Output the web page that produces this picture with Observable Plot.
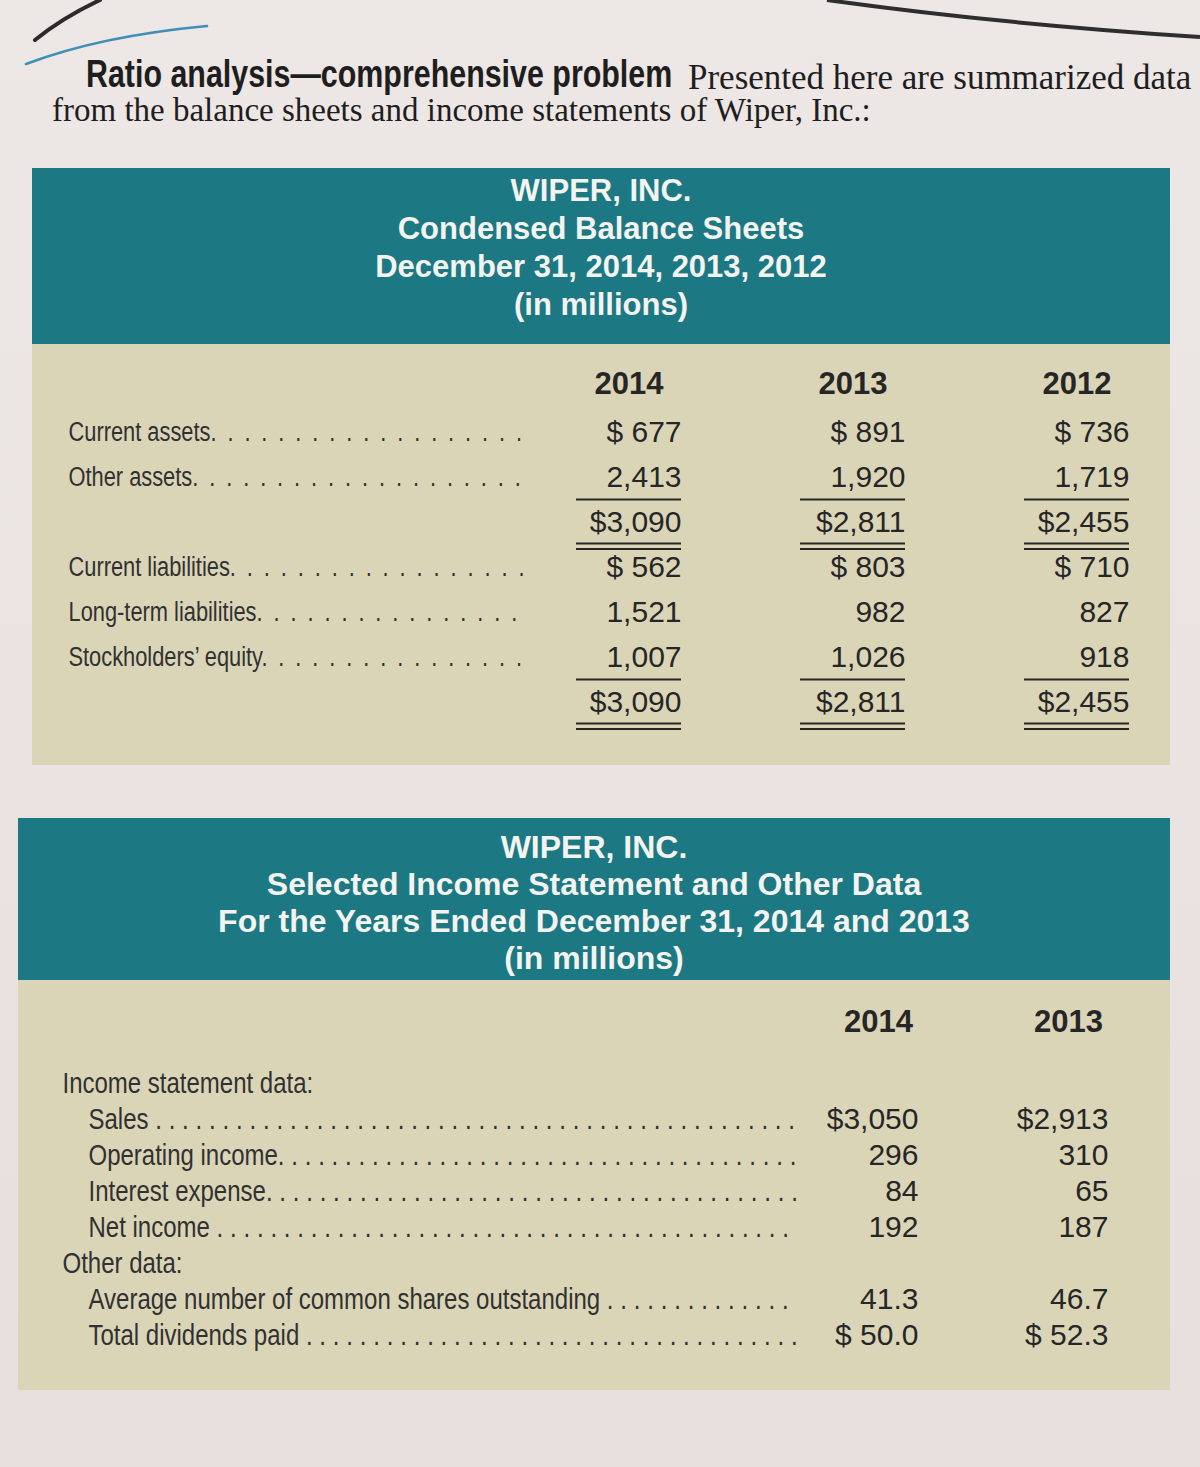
<!DOCTYPE html>
<html><head><meta charset="utf-8">
<script src="https://cdn.jsdelivr.net/npm/d3@7"></script>
<script src="https://cdn.jsdelivr.net/npm/@observablehq/plot@0.6"></script>
<style>
html,body{margin:0;padding:0}
body{width:1200px;height:1467px;position:relative;overflow:hidden;background:linear-gradient(#ede7e5,#e6dfde);font-family:"Liberation Sans",Arial,sans-serif;color:#222}
#deco{position:absolute;left:0;top:0}
.intro{position:absolute;white-space:nowrap;color:#1e1e1e;line-height:1}
.l1a{left:86px;top:55px;font-family:"Liberation Sans",Arial,sans-serif;font-weight:bold;font-size:38px;transform:scaleX(0.8);transform-origin:0 50%}
.l1b{left:688px;top:60px;font-family:"Liberation Serif","Times New Roman",serif;font-size:35px}
.l2{left:52px;top:94px;font-family:"Liberation Serif","Times New Roman",serif;font-size:33px}
.head{position:absolute;background:#1c7883;color:#f3f3ef;font-weight:bold;text-align:center;box-sizing:border-box}
#h1{left:32px;top:168px;width:1138px;height:176px;padding-top:4px;line-height:38px;font-size:31px}
#h2{left:18px;top:818px;width:1152px;height:162px;padding-top:11px;line-height:37px;font-size:32px}
.panel{position:absolute}
#p1{left:32px;top:344px}
#p2{left:18px;top:980px}
</style></head>
<body>
<svg id="deco" width="1200" height="160">
  <path d="M35,40 Q62,18 100,0" fill="none" stroke="#2b2b2b" stroke-width="4" stroke-linecap="round"/>
  <path d="M26,64 Q100,36 207,26" fill="none" stroke="#3f8fb8" stroke-width="2.5" stroke-linecap="round"/>
  <path d="M827,0 Q1000,24 1200,37" fill="none" stroke="#2e2e2e" stroke-width="4"/>
</svg>
<div class="intro l1a">Ratio analysis—comprehensive problem</div>
<div class="intro l1b">Presented here are summarized data</div>
<div class="intro l2">from the balance sheets and income statements of Wiper, Inc.:</div>
<div class="head" id="h1">WIPER, INC.<br>Condensed Balance Sheets<br>December 31, 2014, 2013, 2012<br>(in millions)</div>
<div class="head" id="h2">WIPER, INC.<br>Selected Income Statement and Other Data<br>For the Years Ended December 31, 2014 and 2013<br>(in millions)</div>
<div class="panel" id="p1"></div>
<div class="panel" id="p2"></div>
<script>
// ---------- Balance sheet data ----------
const bsYears = ["2014", "2013", "2012"];
const bsRowKeys = ["ca", "oa", "ta", "cl", "ll", "se", "tl"];
const bsRowLabels = ["Current assets", "Other assets", "", "Current liabilities", "Long-term liabilities", "Stockholders’ equity", ""];
const bs2014 = [677, 2413, 3090, 562, 1521, 1007, 3090];
const bs2013 = [891, 1920, 2811, 803, 982, 1026, 2811];
const bs2012 = [736, 1719, 2455, 710, 827, 918, 2455];
const bsDollarRows = ["ca", "ta", "cl", "tl"];
const bsSingleRule = ["oa", "se"];
const bsDoubleRule = ["ta", "tl"];

// ---------- Income statement data ----------
const isYears = ["2014", "2013"];
const isRowKeys = ["isd", "sales", "op", "int", "net", "oth", "avg", "div"];
const isRowLabels = ["Income statement data:", "Sales", "Operating income.", "Interest expense.", "Net income", "Other data:", "Average number of common shares outstanding", "Total dividends paid"];
const isIndented = [false, true, true, true, true, false, true, true];
const isLeader = [false, true, true, true, true, false, true, true];
const is2014 = [null, 3050, 296, 84, 192, null, 41.3, 50.0];
const is2013 = [null, 2913, 310, 65, 187, null, 46.7, 52.3];
const isDollarRows = ["sales", "div"];
const isDecimalRows = ["avg", "div"];

// ---------- helpers ----------
const ink = "#262626";
const labelInk = "#313131";
const bgBeige = "#dbd5b8";
const fam = "'Liberation Sans'";
const canvas = document.createElement("canvas");
const ctx = canvas.getContext("2d");
function measure(str, font) { ctx.font = font; return ctx.measureText(str).width; }
function withLeader(label, size, scale, start, end, unit) {
  const font = `${size}px ${fam}`;
  const w = measure(label, font) * scale, u = measure(unit, font) * scale;
  const n = Math.max(0, Math.floor((end - start - w) / u));
  return label + unit.repeat(n);
}
// condense label glyphs horizontally (the printed labels use a condensed face)
function condense(svg, fill, s) {
  svg.querySelectorAll(`g[fill="${fill}"] text`).forEach(t => {
    let tr = t.getAttribute("transform");
    if (!tr) {
      tr = `translate(${t.getAttribute("x") || 0},${t.getAttribute("y") || 0})`;
      t.removeAttribute("x"); t.removeAttribute("y");
    }
    t.setAttribute("transform", tr + ` scale(${s},1)`);
  });
}

// ---------- Balance sheet table ----------
const bsSeries = {"2014": bs2014, "2013": bs2013, "2012": bs2012};
const bsCells = [];
bsYears.forEach(y => bsRowKeys.forEach((r, i) => {
  const v = bsSeries[y][i];
  const s = d3.format(",")(v);
  bsCells.push({year: y, row: r, text: bsDollarRows.includes(r) ? (v < 1000 ? "$ " + s : "$" + s) : s});
}));
const bsLabelSize = 28, bsScale = 0.78;
const bsLabelRows = bsRowKeys.map((r, i) => ({row: r, label: bsRowLabels[i]})).filter(d => d.label);
bsLabelRows.forEach(d => { d.text = withLeader(d.label, bsLabelSize, bsScale, 36, 510, ".\u2002"); });
const bsRuleCells1 = bsYears.flatMap(y => bsSingleRule.map(r => ({year: y, row: r})));
const bsRuleCells2 = bsYears.flatMap(y => bsDoubleRule.map(r => ({year: y, row: r})));

const bw1 = 105;
const plot1 = Plot.plot({
  width: 1138, height: 421, margin: 0,
  style: {background: bgBeige, fontFamily: `${fam},Arial,sans-serif`, color: ink},
  x: {type: "band", domain: bsYears, range: [543, 1098], paddingInner: 0.533, paddingOuter: 0, axis: null},
  y: {type: "point", domain: bsRowKeys, range: [88, 358], padding: 0, axis: null},
  marks: [
    Plot.text(bsYears, {x: d => d, text: d => d, frameAnchor: "top", lineAnchor: "middle", dy: 40, fontSize: 31, fontWeight: "bold", fill: ink}),
    Plot.text(bsLabelRows, {y: "row", text: "text", frameAnchor: "left", textAnchor: "start", dx: 36, fontSize: bsLabelSize, fill: labelInk}),
    Plot.text(bsCells, {x: "year", y: "row", text: "text", textAnchor: "end", dx: bw1 / 2, fontSize: 30, fill: ink}),
    Plot.tickY(bsRuleCells1, {x: "year", y: "row", dy: 22, stroke: ink, strokeWidth: 2.2}),
    Plot.tickY(bsRuleCells2, {x: "year", y: "row", dy: 21, stroke: ink, strokeWidth: 2.2}),
    Plot.tickY(bsRuleCells2, {x: "year", y: "row", dy: 26.5, stroke: ink, strokeWidth: 2.2})
  ]
});
condense(plot1, labelInk, bsScale);
document.getElementById("p1").appendChild(plot1);

// ---------- Income statement table ----------
const isSeries = {"2014": is2014, "2013": is2013};
const isCells = [];
isYears.forEach(y => isRowKeys.forEach((r, i) => {
  const v = isSeries[y][i];
  if (v == null) return;
  const s = isDecimalRows.includes(r) ? d3.format(".1f")(v) : d3.format(",")(v);
  isCells.push({year: y, row: r, text: isDollarRows.includes(r) ? (v < 1000 ? "$ " + s : "$" + s) : s});
}));
const isLabelSize = 30, isScale = 0.8;
const isLabelRows = isRowKeys.map((r, i) => {
  const start = isIndented[i] ? 70 : 44;
  return {row: r, indent: start, text: isLeader[i] ? withLeader(isRowLabels[i] + " ", isLabelSize, isScale, start, 790, ".\u2009\u200A") : isRowLabels[i]};
});
const bw2 = 80;
const plot2 = Plot.plot({
  width: 1152, height: 410, margin: 0,
  style: {background: bgBeige, fontFamily: `${fam},Arial,sans-serif`, color: ink},
  x: {type: "band", domain: isYears, range: [820, 1090], paddingInner: 0.579, paddingOuter: 0, axis: null},
  y: {type: "point", domain: isRowKeys, range: [100, 358], padding: 0, axis: null},
  marks: [
    Plot.text(isYears, {x: d => d, text: d => d, frameAnchor: "top", lineAnchor: "middle", dy: 42, fontSize: 31, fontWeight: "bold", fill: ink}),
    Plot.text(isLabelRows.filter(d => d.indent === 44), {y: "row", text: "text", frameAnchor: "left", textAnchor: "start", dx: 44, fontSize: isLabelSize, fill: labelInk}),
    Plot.text(isLabelRows.filter(d => d.indent === 70), {y: "row", text: "text", frameAnchor: "left", textAnchor: "start", dx: 70, fontSize: isLabelSize, fill: labelInk}),
    Plot.text(isCells, {x: "year", y: "row", text: "text", textAnchor: "end", dx: bw2 / 2, fontSize: 30, fill: ink})
  ]
});
condense(plot2, labelInk, isScale);
document.getElementById("p2").appendChild(plot2);
</script>
</body></html>
